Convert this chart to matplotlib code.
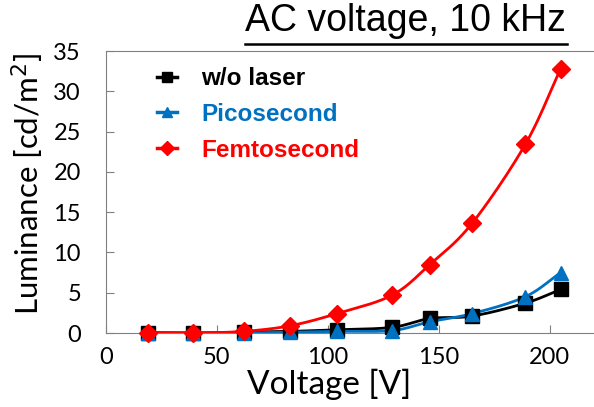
import numpy as np
import matplotlib.pyplot as plt
from matplotlib.lines import Line2D

plt.rcParams['font.family'] = ['Lato', 'DejaVu Sans']

voltage = [19, 39, 62, 83, 104, 129, 146, 165, 189, 205]
wo_laser = [0.05, 0.0, 0.1, 0.2, 0.4, 0.7, 1.8, 2.1, 3.7, 5.4]
picosecond = [0.0, 0.0, 0.0, 0.1, 0.2, 0.3, 1.4, 2.4, 4.5, 7.5]
femtosecond = [0.0, 0.0, 0.2, 0.9, 2.4, 4.7, 8.5, 13.6, 23.4, 32.8]

labels = ['w/o laser', 'Picosecond', 'Femtosecond']
colors = ['black', '#0070C0', '#FF0000']
markers = ['s', '^', 'D']
msizes = [9.5, 10, 9.5]


def smooth(x, y, n=20):
    # Catmull-Rom curve through the points, like a spreadsheet "smoothed line"
    x = np.asarray(x, float)
    y = np.asarray(y, float)
    px = np.concatenate([[2 * x[0] - x[1]], x, [2 * x[-1] - x[-2]]])
    py = np.concatenate([[2 * y[0] - y[1]], y, [2 * y[-1] - y[-2]]])
    t = np.linspace(0, 1, n)[:, None]
    xs, ys = [], []
    for i in range(1, len(px) - 2):
        for p, out in ((px, xs), (py, ys)):
            p0, p1, p2, p3 = p[i - 1], p[i], p[i + 1], p[i + 2]
            seg = 0.5 * (2 * p1 + (-p0 + p2) * t + (2 * p0 - 5 * p1 + 4 * p2 - p3) * t ** 2
                         + (-p0 + 3 * p1 - 3 * p2 + p3) * t ** 3)
            out.append(seg.ravel())
    return np.concatenate(xs), np.concatenate(ys)


fig = plt.figure(figsize=(5.94, 4.07), dpi=100)
ax = fig.add_axes([106 / 594, 1 - 333 / 407, 1 - 106 / 594, 282 / 407])

for data, c, m, ms in zip([wo_laser, picosecond, femtosecond], colors, markers, msizes):
    sx, sy = smooth(voltage, data)
    ax.plot(sx, sy, color=c, lw=2, zorder=2)
    ax.plot(voltage, data, ls='none', marker=m, color=c, ms=ms, zorder=3, clip_on=False)

ax.set_xlim(0, 220)
ax.set_ylim(0, 35)
ax.set_xticks([0, 50, 100, 150, 200])
ax.set_yticks(range(0, 36, 5))
ax.tick_params(direction='in', length=6, color='#808080', labelsize=17)
ax.tick_params(axis='x', pad=10)
ax.tick_params(axis='y', pad=18)
for s in ['left', 'bottom', 'top']:
    ax.spines[s].set_color('#808080')
ax.spines['right'].set_visible(False)

ax.set_xlabel('Voltage [V]', fontsize=24)
ax.xaxis.set_label_coords(0.457, -0.128)
ax.set_ylabel('Luminance [cd/m$^2$]', fontsize=22.5)
ax.yaxis.set_label_coords(-0.122, 0.53)

handles = [Line2D([], [], color=c, lw=2.5, marker=m, ms=ms * 0.75)
           for c, m, ms in zip(colors, markers, msizes)]
leg = ax.legend(handles, labels, loc='upper left', bbox_to_anchor=(0.06, 1.02),
                frameon=False, handlelength=0.8, handletextpad=1.0, labelspacing=0.52,
                prop={'family': 'Liberation Sans', 'size': 17.5, 'weight': 'bold'})
for txt, c in zip(leg.get_texts(), colors):
    txt.set_color(c)

fig.text(0.953, 0.905, 'AC voltage, 10 kHz', fontsize=27, ha='right', va='bottom',
         family='Liberation Sans')
fig.add_artist(Line2D([245 / 594, 567 / 594], [1 - 44 / 407, 1 - 44 / 407],
                      color='black', lw=1.8))

fig.savefig('out.png', dpi=100)
